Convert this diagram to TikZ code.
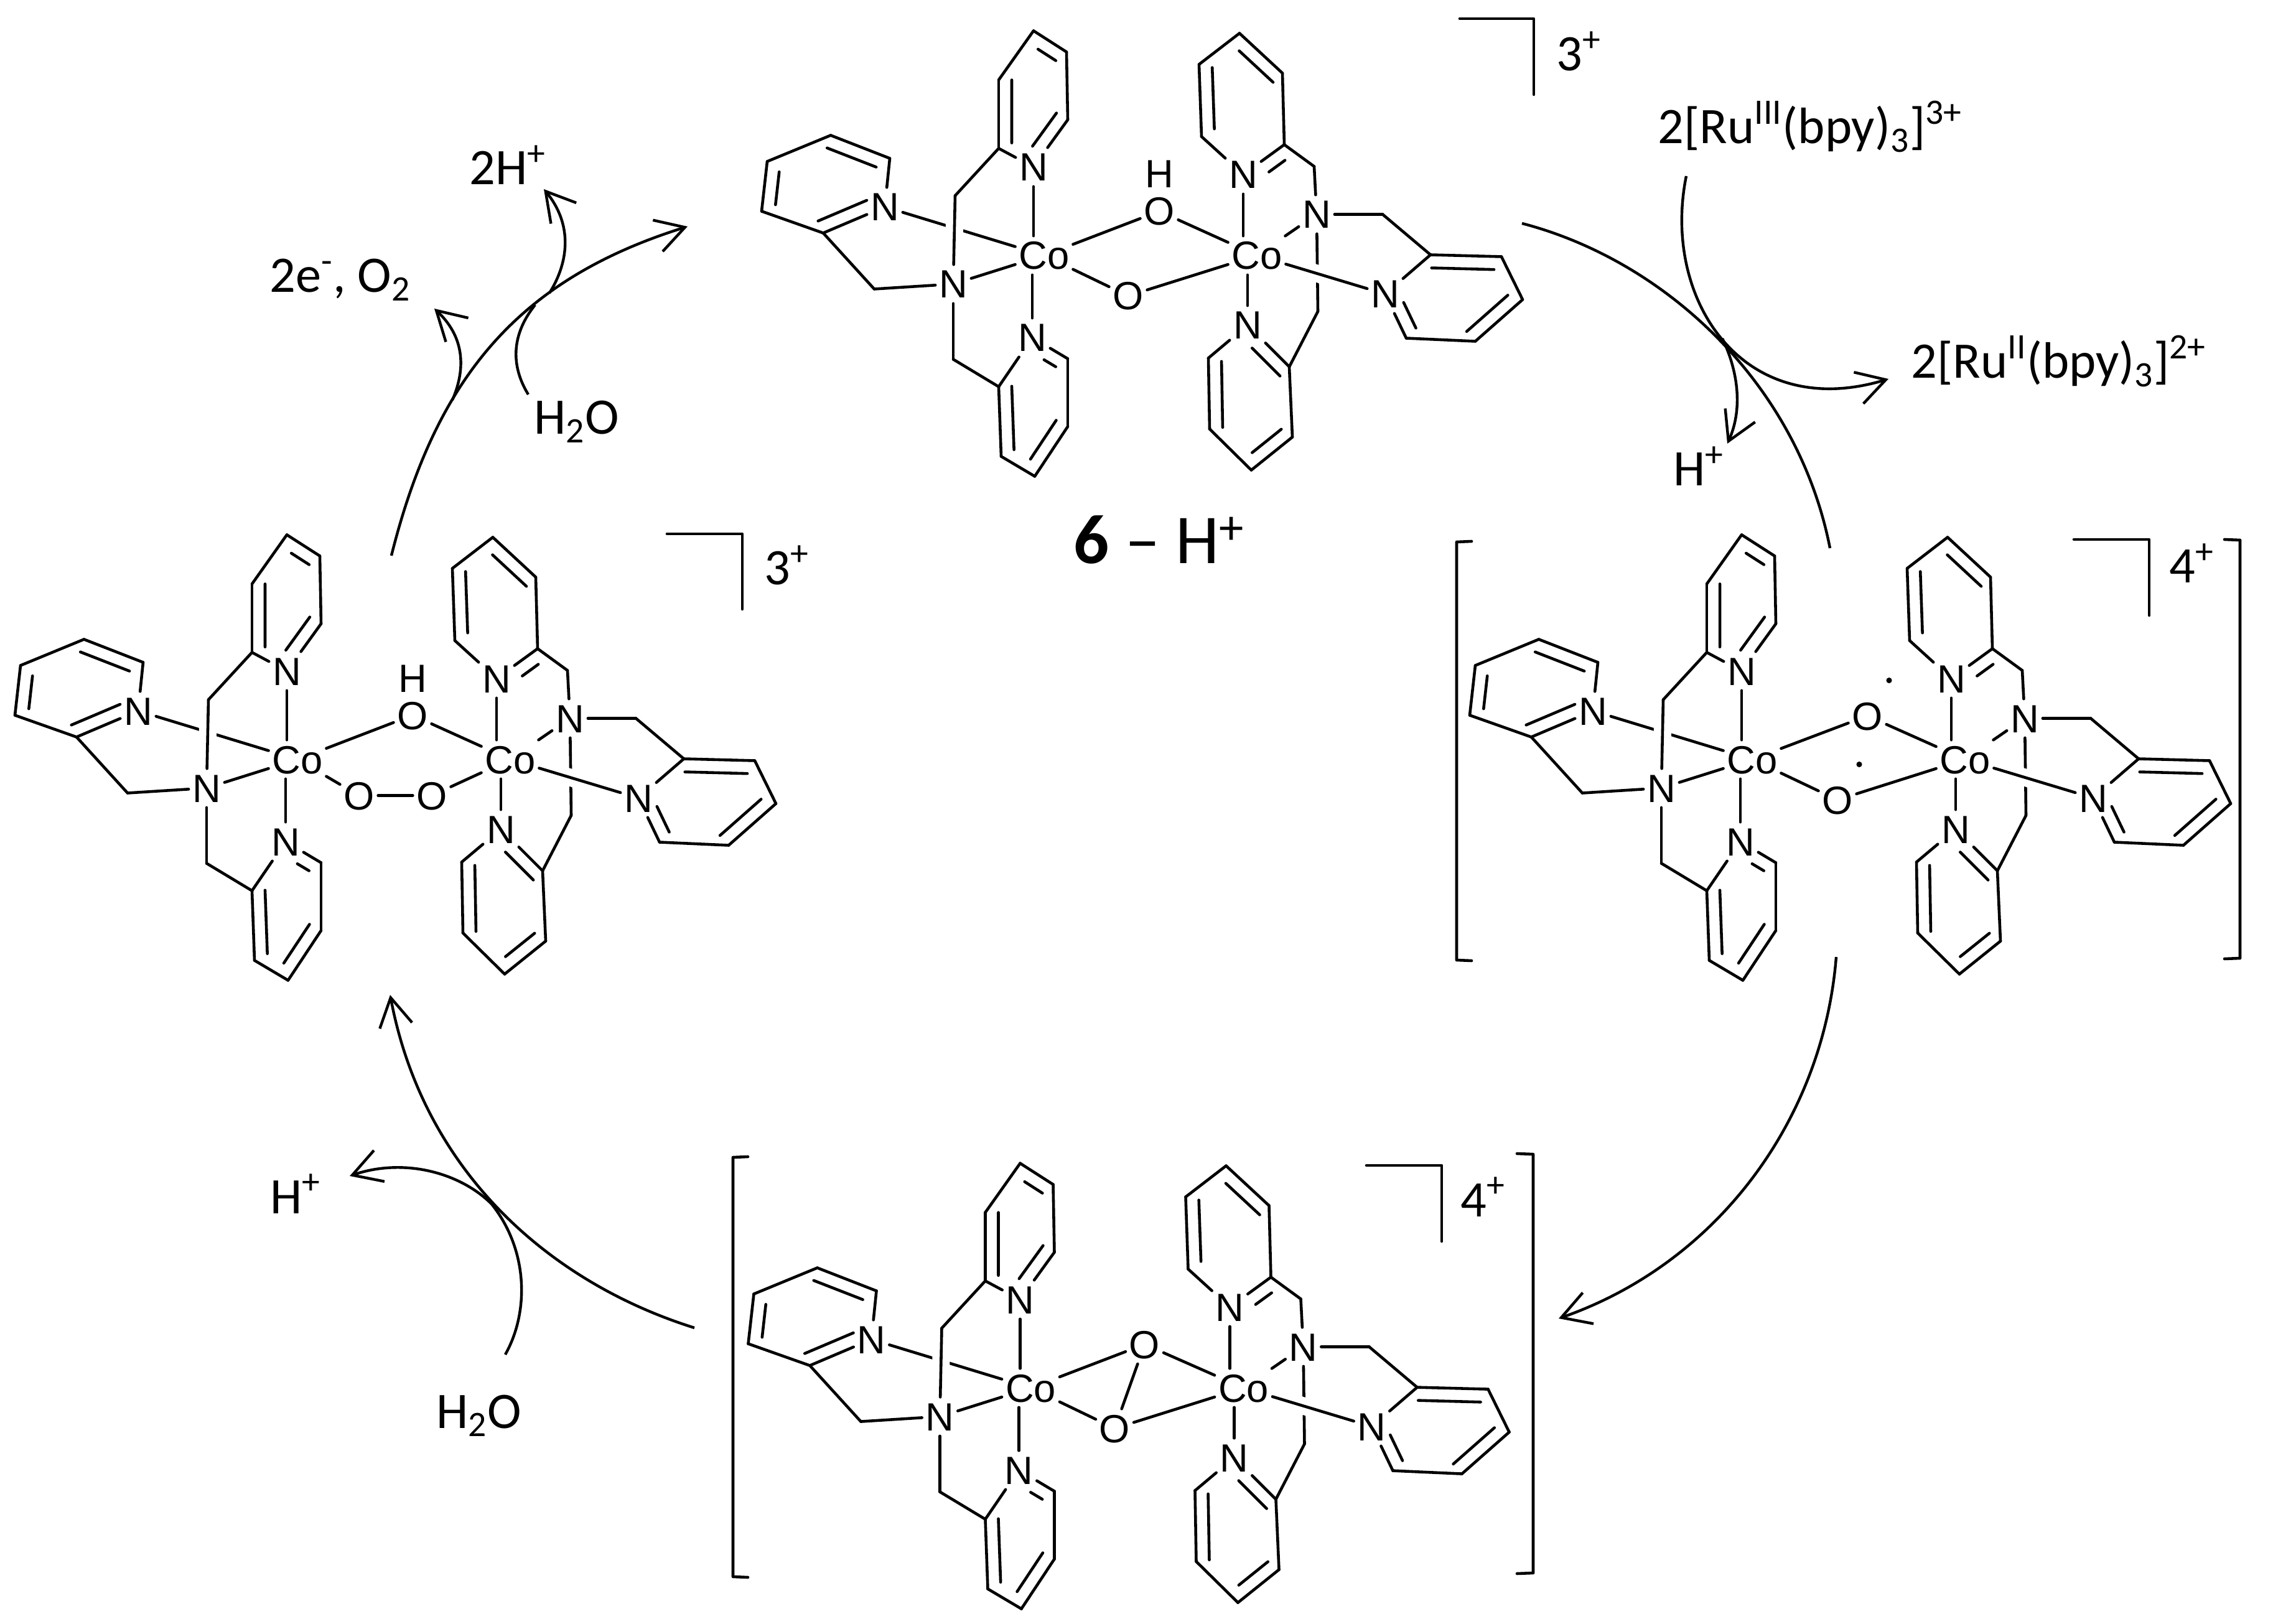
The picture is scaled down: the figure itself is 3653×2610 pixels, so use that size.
\documentclass[tikz,border=0pt]{standalone}
\usepackage{fontspec}
\setmainfont{Carlito}
\newfontfamily\atomfont{Liberation Sans}
\usetikzlibrary{arrows.meta, calc}

\tikzset{
    bond/.style = {line width = 1.3pt, line cap = round, line join = round},
    undercut/.style 2 args = {preaction = {draw = white, line width = 8pt, line cap = butt, shorten < = #1, shorten > = #2}},
    atom/.style = {font = \atomfont\fontsize{18}{18}\selectfont, inner xsep = 1.5pt, inner ysep = 2.3pt, text height = 12.8pt, text depth = 0pt},
    chem/.style = {font = \fontsize{23.4}{23.4}\selectfont, inner sep = 0pt, anchor = base west},
    radical/.style = {circle, fill, inner sep = 0pt, minimum size = 2.6pt},
    reaction/.style = {line width = 1.25pt, -{Straight Barb[length = 13pt, width = 15pt]}},
    feed/.style = {line width = 1.25pt}
}

% second stroke of a double bond, on the left of #1 -> #2
\newcommand{\inbond}[4]{\draw [bond] ($(#1)!#3!(#2)!.21cm!90:(#2)$) -- ($(#1)!#4!(#2)!.21cm!90:(#2)$);}

% #1 name prefix, #2 position of the left Co, #3 the bridge
\newcommand{\dimer}[3]{
    \begin{scope}[shift = {#2}, name prefix = #1]
    \node (co1) [atom] at (0,0) {Co};
    \node (co2) [atom] at (342,0) {Co};
    \node (na) [atom] at (-17,-142) {N};
    \node (nc) [atom] at (-256,-78) {N};
    \node (nd) [atom] at (-19,132) {N};
    \node (nam1) [atom] at (-146,46) {N};
    \node (ne) [atom] at (320,-130) {N};
    \node (nf) [atom] at (548,62) {N};
    \node (ng) [atom] at (327,112) {N};
    \node (nam2) [atom] at (438,-66) {N};
    \path (-73,-172) coordinate (pa1) (-73,-282) coordinate (pa2) (-17,-361) coordinate (pa3)
        (36,-327) coordinate (pa4) (38,-218) coordinate (pa5) (-143,-96) coordinate (ma);
    \path (-355,-36) coordinate (pc1) (-454,-71) coordinate (pc2) (-445,-151) coordinate (pc3)
        (-343,-193) coordinate (pc4) (-248,-156) coordinate (pc5) (-273,54) coordinate (mc);
    \path (-73,211) coordinate (pd1) (-69,323) coordinate (pd2) (-15,355) coordinate (pd3)
        (38,275) coordinate (pd4) (38,166) coordinate (pd5) (-146,167) coordinate (md);
    \path (386,-178) coordinate (pe1) (383,-293) coordinate (pe2) (314,-357) coordinate (pe3)
        (249,-307) coordinate (pe4) (253,-191) coordinate (pe5) (434,-143) coordinate (me);
    \path (621,-1) coordinate (pf1) (735,2) coordinate (pf2) (769,71) coordinate (pf3)
        (693,138) coordinate (pf4) (582,133) coordinate (pf5) (544,-66) coordinate (mf);
    \path (394,179) coordinate (pg1) (399,292) coordinate (pg2) (333,345) coordinate (pg3)
        (266,279) coordinate (pg4) (264,165) coordinate (pg5) (440,90) coordinate (mg);
    % crossings first
    \draw [bond] (nc) -- (co1);
    \draw [bond, undercut = {.25cm}{.3cm}] (ma) -- (nam1);
    \draw [bond] (nam2) -- (mg);
    \draw [bond, undercut = {.3cm}{.6cm}] (co2) -- (nf);
    \path [bond]
        (na) edge (na |- co1.north)
        (co1) edge (nam1)
        (nd) edge (nd |- co1.south)
        (ma) edge (pa1)
        (pa1) edge (na)
        (pa1) edge (pa2)
        (pa2) edge (pa3)
        (pa3) edge (pa4)
        (pa4) edge (pa5)
        (pa5) edge (na)
        (nc) edge (pc1)
        (pc1) edge (pc2)
        (pc2) edge (pc3)
        (pc3) edge (pc4)
        (pc4) edge (pc5)
        (pc5) edge (nc)
        (pc1) edge (mc)
        (mc) edge (nam1)
        (nam1) edge (md)
        (md) edge (pd1)
        (pd1) edge (nd)
        (pd1) edge (pd2)
        (pd2) edge (pd3)
        (pd3) edge (pd4)
        (pd4) edge (pd5)
        (pd5) edge (nd);
    \path [bond]
        (ne) edge (ne |- co2.north)
        (co2) edge (nam2)
        (ng) edge (ng |- co2.south)
        (ne) edge (pe1)
        (pe1) edge (pe2)
        (pe2) edge (pe3)
        (pe3) edge (pe4)
        (pe4) edge (pe5)
        (pe5) edge (ne)
        (pe1) edge (me)
        (me) edge (nam2)
        (nam2) edge (mf)
        (mf) edge (pf1)
        (pf1) edge (pf2)
        (pf2) edge (pf3)
        (pf3) edge (pf4)
        (pf4) edge (pf5)
        (pf5) edge (nf)
        (nf) edge (pf1)
        (mg) edge (pg1)
        (pg1) edge (ng)
        (pg1) edge (pg2)
        (pg2) edge (pg3)
        (pg3) edge (pg4)
        (pg4) edge (pg5)
        (pg5) edge (ng);
    \inbond{pa2}{pa1}{0}{.92}
    \inbond{na}{pa5}{.28}{.98}
    \inbond{pa4}{pa3}{.11}{.65}
    \inbond{pc3}{pc2}{.18}{.84}
    \inbond{pc1}{nc}{0}{.79}
    \inbond{pc5}{pc4}{.15}{.98}
    \inbond{pd1}{pd2}{0}{.91}
    \inbond{pd3}{pd4}{.2}{.98}
    \inbond{pd5}{nd}{.15}{.48}
    \inbond{pe4}{pe5}{.05}{.9}
    \inbond{pe1}{ne}{.17}{.56}
    \inbond{pe2}{pe3}{.01}{.8}
    \inbond{pf2}{pf1}{.1}{.98}
    \inbond{nf}{pf5}{.32}{.9}
    \inbond{pf4}{pf3}{0}{.87}
    \inbond{pg5}{pg4}{.05}{.98}
    \inbond{pg3}{pg2}{.22}{.93}
    \inbond{pg1}{ng}{0}{.67}
    #3
    \end{scope}
}

\begin{document}
\begin{tikzpicture}[x = 0.01cm, y = -0.01cm]
    \useasboundingbox (0,0) rectangle (3653,2610);

    \dimer{t}{(1678,410.5)}{
        \node (h) [atom, inner ysep = 0pt] at (185,-131) {H};
        \node (o1) [atom] at (185,-71) {O};
        \node (o2) [atom] at (135,65) {O};
        \path [bond]
            (co1) edge (o1)
            (o1) edge (co2)
            (co1) edge (o2)
            (o2) edge (co2);
    }
    \dimer{l}{(478,1220.5)}{
        \node (h) [atom, inner ysep = 0pt] at (185,-131) {H};
        \node (o1) [atom] at (185,-71) {O};
        \node (o2) [atom] at (99,58) {O};
        \node (o3) [atom] at (216,58) {O};
        \path [bond]
            (co1) edge (o1)
            (o1) edge (co2)
            (co1) edge (o2)
            (o2) edge (o3)
            (o3) edge (co2);
    }
    \dimer{r}{(2816,1220.5)}{
        \node (dot1) [radical] at (220,-127) {};
        \node (dot2) [radical] at (172,8) {};
        \node (o1) [atom] at (185,-70) {O};
        \node (o2) [atom] at (137,65) {O};
        \path [bond]
            (co1) edge (o1)
            (o1) edge (co2)
            (co1) edge (o2)
            (o2) edge (co2);
    }
    \dimer{b}{(1656.5,2230.6)}{
        \node (o1) [atom] at (183,-70) {O};
        \node (o2) [atom] at (135,65) {O};
        \path [bond]
            (co1) edge (o1)
            (o1) edge (co2)
            (co1) edge (o2)
            (o2) edge (co2)
            (o1) edge (o2);
    }

    % charge corners and square brackets
    \draw [bond] (2346,30) -- (2465,30) -- (2465,152);
    \draw [bond] (1072,858) -- (1193,858) -- (1193,979);
    \draw [bond] (3333,867) -- (3454,867) -- (3454,989);
    \draw [bond] (2196,1873) -- (2317,1873) -- (2317,1995);
    \draw [bond] (2365,870) -- (2341,871) -- (2341,1543) -- (2365,1544);
    \draw [bond] (3575,867) -- (3600,868) -- (3600,1540) -- (3575,1541);
    \draw [bond] (1202,1859) -- (1178,1860) -- (1178,2534) -- (1202,2535);
    \draw [bond] (2438,1854) -- (2464,1855) -- (2464,2528) -- (2438,2529);

    \node (chgt) [chem] at (2501,114) {3\textsuperscript{+}};
    \node (chgl) [chem] at (1228,940) {3\textsuperscript{+}};
    \node (chgr) [chem] at (3486,937) {4\textsuperscript{+}};
    \node (chgb) [chem] at (2347,1955) {4\textsuperscript{+}};

    \node (twoh) [chem] at (754,297) {2H\textsuperscript{+}};
    \node (twoe) [chem] at (433,470) {2e\textsuperscript{-}, O\textsubscript{2}};
    \node (wata) [chem] at (858,698) {H\textsubscript{2}O};
    \node (rutri) [chem] at (2664,231) {2[Ru\textsuperscript{III}(bpy)\textsubscript{3}]\textsuperscript{3+}};
    \node (rubi) [chem] at (3071,608) {2[Ru\textsuperscript{II}(bpy)\textsubscript{3}]\textsuperscript{2+}};
    \node (prota) [chem] at (2689,781) {H\textsuperscript{+}};
    \node (protb) [chem] at (434,1950) {H\textsuperscript{+}};
    \node (watb) [chem] at (701,2295) {H\textsubscript{2}O};
    \node (title) [chem, font = \fontsize{32}{32}\selectfont] at (1725,906) {\textbf{6} -- H\textsuperscript{+}};

    % cycle
    \coordinate (ltstart) at (629,893);
    \coordinate (ltend) at (1105,364);
    \coordinate (trstart) at (2446,359);
    \coordinate (trend) at (2941,881);
    \coordinate (rbstart) at (2951,1538);
    \coordinate (rbend) at (2505,2119);
    \coordinate (blstart) at (1116,2134);
    \coordinate (blend) at (627,1599);
    \draw [reaction] (ltstart) .. controls (700,610) and (830,450) .. (ltend);
    \draw [feed] (trstart) .. controls (2680,420) and (2890,620) .. (trend);
    \draw [reaction] (rbstart) .. controls (2930,1800) and (2760,2030) .. (rbend);
    \draw [reaction] (blstart) .. controls (880,2060) and (680,1880) .. (blend);

    % side arrows
    \coordinate (eoff) at (727,643);
    \coordinate (etip) at (698,496);
    \coordinate (hoff) at (883,471);
    \coordinate (htip) at (874,304);
    \coordinate (wfrom) at (849,634);
    \coordinate (wmeet) at (860,490);
    \coordinate (rufrom) at (2710,283);
    \coordinate (rutip) at (3035,609);
    \coordinate (poff) at (2768,544);
    \coordinate (ptip) at (2776,713);
    \coordinate (wbfrom) at (812,2177);
    \coordinate (wbmid) at (790,1935);
    \coordinate (wbtip) at (562,1890);
    \draw [reaction] (eoff) .. controls (750,590) and (745,540) .. (etip);
    \draw [reaction] (hoff) .. controls (915,420) and (920,360) .. (htip);
    \draw [feed] (wfrom) .. controls (822,590) and (820,540) .. (wmeet);
    \draw [reaction] (rufrom) .. controls (2670,480) and (2800,680) .. (rutip);
    \draw [reaction] (poff) .. controls (2795,600) and (2800,660) .. (ptip);
    \draw [reaction] (wbfrom) .. controls (850,2110) and (850,2010) .. (wbmid)
        .. controls (740,1885) and (650,1860) .. (wbtip);
\end{tikzpicture}
\end{document}
